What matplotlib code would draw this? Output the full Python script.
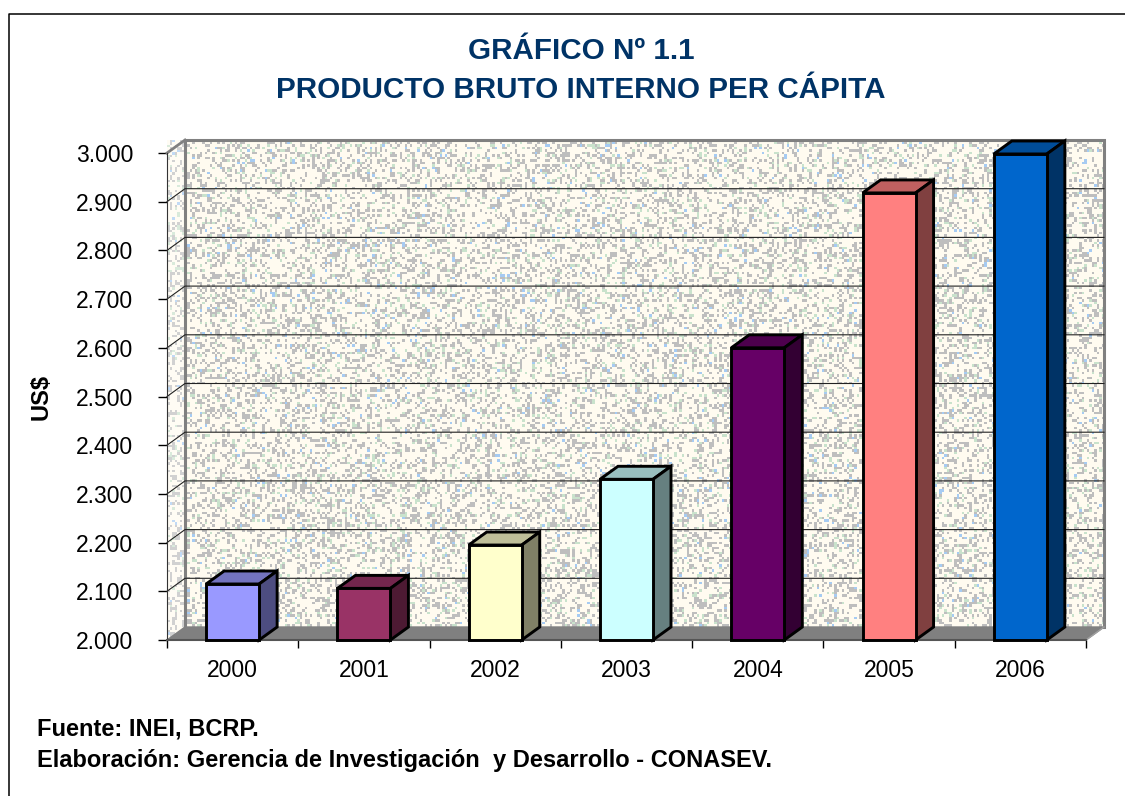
import numpy as np
import matplotlib
matplotlib.use('Agg')
import matplotlib.pyplot as plt
from matplotlib.patches import Polygon
from matplotlib.colors import ListedColormap

plt.rcParams['font.family'] = ['Liberation Sans', 'DejaVu Sans']

years = ['2000', '2001', '2002', '2003', '2004', '2005', '2006']
values = [2115, 2106, 2195, 2330, 2600, 2918, 2998]
front_colors = ['#9999FF', '#993366', '#FFFFCC', '#CCFFFF', '#660066', '#FF8080', '#0066CC']
top_colors = ['#7373BF', '#73264D', '#BFBF99', '#99BFBF', '#4D004D', '#BF6060', '#004D99']
side_colors = ['#4D4D80', '#4D1A33', '#808066', '#668080', '#330033', '#804040', '#003366']
y_ticks = [2000, 2100, 2200, 2300, 2400, 2500, 2600, 2700, 2800, 2900, 3000]
y_labels = ['2.000', '2.100', '2.200', '2.300', '2.400', '2.500', '2.600', '2.700', '2.800', '2.900', '3.000']

W, H = 1125, 796
fig = plt.figure(figsize=(W / 100, H / 100), dpi=100)

# page frame, only left and top lines are in the picture
bg = fig.add_axes([0, 0, 1, 1])
bg.set_xlim(0, W)
bg.set_ylim(H, 0)
bg.axis('off')
bg.plot([9, 9, W], [H, 14, 14], color='black', lw=1.1)

# front plane of the 3d box, the depth goes up and right from it
left, right, top, bottom = 167, 1086, 153, 640
ax = fig.add_axes([left / W, 1 - bottom / H, (right - left) / W, (bottom - top) / H])
ax.set_xlim(-0.5, 6.5)
ax.set_ylim(2000, 3000)
ax.patch.set_alpha(0)
ax.set_zorder(2)

dx = 18 / (right - left) * 7
dy = 13 / (bottom - top) * 1000
bar_w = 53 / (right - left) * 7


def box(pts, **kw):
    kw.setdefault('clip_on', False)
    p = Polygon(pts, closed=True, **kw)
    ax.add_patch(p)
    return p


# speckled wall texture, only decoration
rng = np.random.RandomState(3)
tex_colors = ListedColormap(['#FFFBF0', '#BEBEBE', '#C9E2CC', '#A6CBF2'])
tex = rng.choice(4, size=(195, 368), p=[0.66, 0.26, 0.06, 0.02])
ax.imshow(tex, cmap=tex_colors, vmin=0, vmax=3, interpolation='nearest', aspect='auto',
          extent=(-0.5 + dx, 6.5 + dx, 2000 + dy, 3000 + dy), clip_on=False, zorder=0)
side = rng.choice(4, size=(200, 7), p=[0.66, 0.26, 0.06, 0.02])
im = ax.imshow(side, cmap=tex_colors, vmin=0, vmax=3, interpolation='nearest', aspect='auto',
               extent=(-0.5, -0.5 + dx, 2000, 3000 + dy), clip_on=False, zorder=0, alpha=0.7)
clip = Polygon([(-0.5, 2000), (-0.5 + dx, 2000 + dy), (-0.5 + dx, 3000 + dy), (-0.5, 3000)],
               transform=ax.transData)
im.set_clip_path(clip)
ax.set_xlim(-0.5, 6.5)
ax.set_ylim(2000, 3000)
ax.set_aspect('auto')

# floor
box([(-0.5, 2000), (6.5, 2000), (6.5 + dx, 2000 + dy), (-0.5 + dx, 2000 + dy)],
    fc='#808080', ec='#808080', lw=1, zorder=1)
# wall edges
ax.plot([-0.5 + dx, -0.5 + dx, 6.5 + dx, 6.5 + dx], [2000 + dy, 3000 + dy, 3000 + dy, 2000 + dy],
        color='#808080', lw=2.2, clip_on=False, zorder=1.5, solid_joinstyle='miter')
ax.plot([6.5, 6.5 + dx], [2000, 2000 + dy], color='#A0A0A0', lw=1, clip_on=False, zorder=1.5)

# gridlines run along the back wall and down the side wall
for t in y_ticks[1:-1]:
    ax.plot([-0.5, -0.5 + dx, 6.5 + dx], [t, t + dy, t + dy], color='#222222', lw=0.8,
            clip_on=False, zorder=1.6)
ax.plot([-0.5, -0.5 + dx], [3000, 3000 + dy], color='#808080', lw=2, clip_on=False, zorder=1.6)

# bars
for i, v in enumerate(values):
    x0, x1 = i - bar_w / 2, i + bar_w / 2
    edge = dict(ec='black', lw=2.1, joinstyle='miter', zorder=3)
    box([(x0, v), (x1, v), (x1 + dx, v + dy), (x0 + dx, v + dy)], fc=top_colors[i], **edge)
    box([(x1, 2000), (x1 + dx, 2000 + dy), (x1 + dx, v + dy), (x1, v)], fc=side_colors[i], **edge)
    box([(x0, 2000), (x1, 2000), (x1, v), (x0, v)], fc=front_colors[i], **edge)

ax.set_xticks(np.arange(-0.5, 7, 1))
ax.set_xticklabels([])
ax.set_xticks(np.arange(7), labels=years, minor=True)
ax.tick_params(axis='x', which='major', length=6, width=1, color='black', direction='out')
ax.tick_params(axis='x', which='minor', length=0, labelsize=16.5, pad=14)
ax.set_yticks(y_ticks)
ax.set_yticklabels(y_labels)
ax.tick_params(axis='y', length=6.5, width=1, color='black', labelsize=16.5, pad=18)
for s in ['top', 'right']:
    ax.spines[s].set_visible(False)
ax.spines['left'].set_color('#333333')
ax.spines['bottom'].set_color('#555555')
ax.spines['bottom'].set_linewidth(1.5)
ax.spines['left'].set_zorder(2)
ax.spines['bottom'].set_zorder(2.5)

bg.text(581, 51, 'GRÁFICO Nº 1.1', ha='center', va='center', fontsize=21.3, fontweight='bold', color='#003366')
bg.text(581, 90, 'PRODUCTO BRUTO INTERNO PER CÁPITA', ha='center', va='center', fontsize=21.3,
        fontweight='bold', color='#003366')
bg.text(41, 397, 'US$', ha='center', va='center', rotation=90, fontsize=17, fontweight='bold')
bg.text(37, 729, 'Fuente: INEI, BCRP.', ha='left', va='center', fontsize=17, fontweight='bold')
bg.text(37, 761, 'Elaboración: Gerencia de Investigación  y Desarrollo - CONASEV.', ha='left', va='center',
        fontsize=17, fontweight='bold')

fig.savefig('out.png', dpi=100)
